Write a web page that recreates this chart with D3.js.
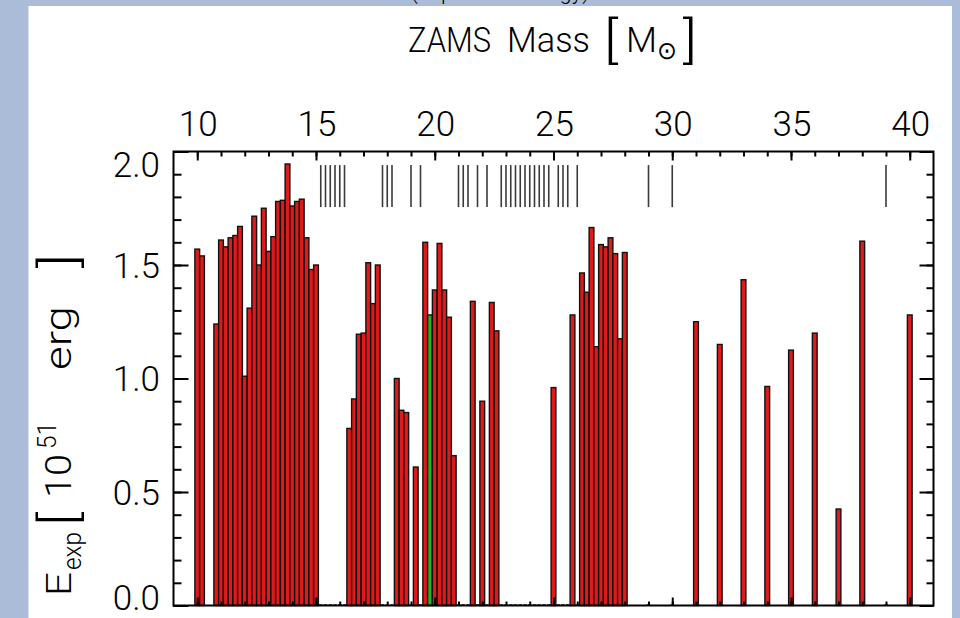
<!DOCTYPE html>
<html>
<head>
<meta charset="utf-8">
<script src="https://cdn.jsdelivr.net/npm/d3@7"></script>
<style>
  html, body { margin: 0; padding: 0; background: #aabcd7; }
  svg { display: block; }
  text { font-family: Roboto, "DejaVu Sans", sans-serif; font-weight: 300; fill: #000; }
</style>
</head>
<body>
<svg id="chart" width="960" height="618"></svg>
<script>
// ---- data ----
const explodedMass = [
  10.0, 10.2, 10.8, 11.0, 11.2, 11.4, 11.6, 11.8, 12.0, 12.2, 12.4, 12.6, 12.8, 13.0, 13.2, 13.4,
  13.6, 13.8, 14.0, 14.2, 14.4, 14.6, 14.8, 15.0,
  16.4, 16.6, 16.8, 17.0, 17.2, 17.4, 17.6,
  18.4, 18.6, 18.8, 19.2, 19.6, 19.8, 20.0, 20.2, 20.4, 20.6, 20.8,
  21.6, 22.0, 22.4, 22.6, 25.0, 25.8,
  26.2, 26.4, 26.6, 26.8, 27.0, 27.2, 27.4, 27.6, 27.8, 28.0,
  31, 32, 33, 34, 35, 36, 37, 38, 40
];
const explosionEnergy = [
  1.57, 1.54, 1.24, 1.61, 1.58, 1.62, 1.63, 1.67, 1.01, 1.31, 1.715, 1.50, 1.75, 1.56, 1.625, 1.78,
  1.785, 1.945, 1.76, 1.78, 1.79, 1.62, 1.48, 1.50,
  0.78, 0.91, 1.195, 1.20, 1.51, 1.33, 1.50,
  1.00, 0.86, 0.85, 0.61, 1.60, 1.28, 1.39, 1.595, 1.39, 1.27, 0.66,
  1.34, 0.90, 1.335, 1.21, 0.96, 1.28,
  1.465, 1.38, 1.665, 1.14, 1.59, 1.58, 1.62, 1.55, 1.175, 1.555,
  1.25, 1.15, 1.435, 0.965, 1.125, 1.20, 0.425, 1.605, 1.28
];
const calibrationMass = 19.8;   // drawn in green
const failedMass = [
  15.2, 15.4, 15.6, 15.8, 16.0, 16.2, 17.8, 18.0, 18.2, 19.0, 19.4,
  21.0, 21.2, 21.4, 21.8, 22.2, 22.8, 23.0, 23.2, 23.4, 23.6, 23.8, 24.0, 24.2, 24.4, 24.6, 24.8,
  25.2, 25.4, 25.6, 26.0, 29, 30, 39
];
const failedMarkRange = [1.755, 1.94];
const xTickValues = [10, 15, 20, 25, 30, 35, 40];
const xTickLabels = ["10", "15", "20", "25", "30", "35", "40"];
const yTickValues = [0, 0.5, 1.0, 1.5, 2.0];
const yTickLabels = ["0.0", "0.5", "1.0", "1.5", "2.0"];
const xDomain = [9, 41];
const yDomain = [0, 2];
const binWidth = 0.2;

// ---- layout ----
const svg = d3.select("#chart");
const W = 960, H = 618;
const plot = { left: 173.5, right: 933.5, top: 151.5, bottom: 605.5 };

svg.append("rect").attr("x", 0).attr("y", 0).attr("width", W).attr("height", H).attr("fill", "#aabcd7");
svg.append("rect").attr("x", 28).attr("y", 6).attr("width", 924).attr("height", H - 6).attr("fill", "#ffffff");
svg.append("line").attr("x1", 28.5).attr("x2", 28.5).attr("y1", 6).attr("y2", H).attr("stroke", "#d8e0ec").attr("stroke-width", 1);

// clipped fragment of a title above the visible area (only descenders show)
svg.append("text").attr("x", 500).attr("y", -1).attr("text-anchor", "middle")
  .attr("font-size", 22).attr("font-weight", 400).text("(Explosion Energy)");

const x = d3.scaleLinear().domain(xDomain).range([plot.left, plot.right]);
const y = d3.scaleLinear().domain(yDomain).range([plot.bottom, plot.top]);

const g = svg.append("g");

// bars
const bars = explodedMass.map((m, i) => ({ m, e: explosionEnergy[i] }));
g.selectAll("rect.bar").data(bars).enter().append("rect")
  .attr("class", "bar")
  .attr("x", d => x(d.m - binWidth / 2))
  .attr("width", d => x(d.m + binWidth / 2) - x(d.m - binWidth / 2))
  .attr("y", d => y(d.e))
  .attr("height", d => y(0) - y(d.e))
  .attr("fill", d => Math.abs(d.m - calibrationMass) < 1e-6 ? "#25b025" : "#e01a1a")
  .attr("stroke", "#111")
  .attr("stroke-width", 1.4);

// zero-height bars for failed models (along the baseline)
g.selectAll("rect.fail0").data(failedMass).enter().append("rect")
  .attr("class", "fail0")
  .attr("x", d => x(d - binWidth / 2) + 0.6)
  .attr("width", d => x(d + binWidth / 2) - x(d - binWidth / 2) - 1.2)
  .attr("y", y(0) - 1.5)
  .attr("height", 1.5)
  .attr("fill", "#555");

// failed marks at top
g.selectAll("line.fail").data(failedMass).enter().append("line")
  .attr("class", "fail")
  .attr("x1", d => x(d)).attr("x2", d => x(d))
  .attr("y1", y(failedMarkRange[1])).attr("y2", y(failedMarkRange[0]))
  .attr("stroke", "#3a3a3a").attr("stroke-width", 1.6);

// axes (ticks drawn by d3 axes, labels separately)
const minorX = d3.range(10, 41, 1);
const minorY = d3.range(0, 21, 1).map(v => v / 10);
function styleAxis(sel) {
  sel.selectAll("path.domain").remove();
  sel.selectAll("text").remove();
  sel.selectAll("line").attr("stroke", "#000").attr("stroke-width", 2);
}
svg.append("g").attr("transform", `translate(0,${plot.top})`)
  .call(d3.axisTop(x).tickValues(minorX).tickSize(-5)).call(styleAxis);
svg.append("g").attr("transform", `translate(0,${plot.top})`)
  .call(d3.axisTop(x).tickValues(xTickValues).tickSize(-9)).call(styleAxis);
svg.append("g").attr("transform", `translate(0,${plot.bottom})`)
  .call(d3.axisBottom(x).tickValues(minorX).tickSize(-4)).call(styleAxis);
svg.append("g").attr("transform", `translate(0,${plot.bottom})`)
  .call(d3.axisBottom(x).tickValues(xTickValues).tickSize(-8)).call(styleAxis);
svg.append("g").attr("transform", `translate(${plot.left},0)`)
  .call(d3.axisLeft(y).tickValues(minorY).tickSize(-8)).call(styleAxis);
svg.append("g").attr("transform", `translate(${plot.left},0)`)
  .call(d3.axisLeft(y).tickValues(yTickValues).tickSize(-15)).call(styleAxis);
svg.append("g").attr("transform", `translate(${plot.right},0)`)
  .call(d3.axisRight(y).tickValues(minorY).tickSize(-7)).call(styleAxis);
svg.append("g").attr("transform", `translate(${plot.right},0)`)
  .call(d3.axisRight(y).tickValues(yTickValues).tickSize(-14)).call(styleAxis);

// frame
svg.append("rect")
  .attr("x", plot.left).attr("y", plot.top)
  .attr("width", plot.right - plot.left).attr("height", plot.bottom - plot.top)
  .attr("fill", "none").attr("stroke", "#000").attr("stroke-width", 2);

// x tick labels (top)
svg.selectAll("text.xl").data(xTickValues).enter().append("text")
  .attr("class", "xl")
  .attr("x", d => x(d) + 1).attr("y", 136)
  .attr("text-anchor", "middle").attr("font-size", 35)
  .text((d, i) => xTickLabels[i]);

// y tick labels (clamped inside axis range)
svg.selectAll("text.yl").data(yTickValues).enter().append("text")
  .attr("class", "yl")
  .attr("x", 160)
  .attr("y", d => Math.min(Math.max(y(d), plot.top + 13), plot.bottom - 8) + 12.5)
  .attr("text-anchor", "end").attr("font-size", 35)
  .text((d, i) => yTickLabels[i]);

// helper for title pieces
function piece(parent, txt, px, py, size, len, weight) {
  const t = parent.append("text").attr("x", px).attr("y", py).attr("font-size", size).text(txt);
  if (len) t.attr("textLength", len).attr("lengthAdjust", "spacingAndGlyphs");
  if (weight) t.attr("font-weight", weight);
  return t;
}

// x title: ZAMS Mass [M⊙]
const xt = svg.append("g");
piece(xt, "ZAMS", 408, 52, 35, 83);
piece(xt, "Mass", 507, 52, 35, 83);
piece(xt, "[", 604, 57, 50, 14);
piece(xt, "M", 626, 52, 35, 31);
piece(xt, "⊙", 657, 59, 25, 20);
piece(xt, "]", 683, 57, 50, 14);

// y title: E_exp [10^51 erg]  (rotated)
const yt = svg.append("g").attr("transform", "translate(71,596) rotate(-90)");
piece(yt, "E", 0, 0, 35, 24);
piece(yt, "exp", 26, 10, 25, 38, 400);
piece(yt, "[", 70, 5, 50, 14);
piece(yt, "10", 98, 0, 36, 44);
piece(yt, "51", 147, -15, 25, 27);
piece(yt, "erg", 226, 0, 37, 64);
piece(yt, "]", 328, 5, 50, 14);
</script>
</body>
</html>
